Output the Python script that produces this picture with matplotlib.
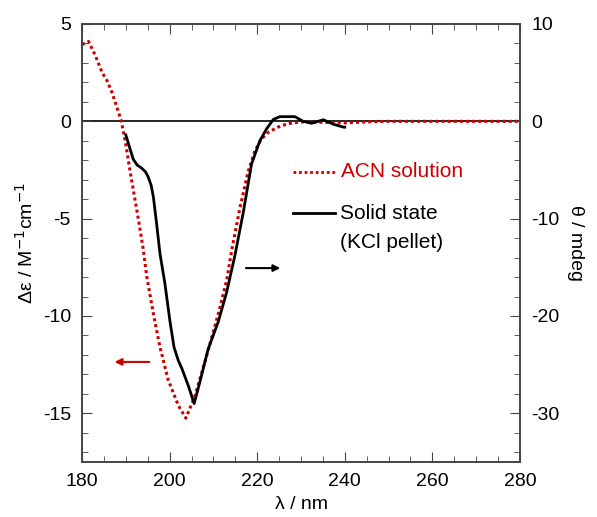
import matplotlib
matplotlib.use("Agg")
import matplotlib.pyplot as plt
from matplotlib.ticker import MultipleLocator

plt.rcParams["font.family"] = ["Liberation Sans", "DejaVu Sans"]
plt.rcParams["axes.unicode_minus"] = False

# ACN solution (left axis, delta epsilon / M-1 cm-1)
acn_wl = [180, 181.5, 183, 184.6, 185.7, 186.8, 188, 189, 190, 191, 192, 193, 194,
          194.8, 196.3, 197.8, 199.7, 202, 203.7, 205.8, 208.5, 211.1, 213, 214.2,
          216, 217.9, 219.5, 221, 222.5, 224.7, 227, 230, 235, 240, 245, 250, 260,
          270, 280]
acn_de = [3.95, 4.1, 3.4, 2.5, 2.1, 1.5, 0.7, 0.0, -1.2, -2.6, -3.9, -5.2, -6.6,
          -8.0, -9.9, -11.6, -13.3, -14.6, -15.25, -14.1, -12.0, -9.9, -8.2, -6.6,
          -4.5, -2.6, -1.5, -0.9, -0.57, -0.3, -0.12, -0.03, -0.05, -0.08, -0.03,
          0.0, 0.0, 0.0, 0.0]

# Solid state, KCl pellet (right axis, theta / mdeg)
kcl_wl = [190.0, 190.8, 191.7, 192.6, 193.6, 194.5, 195.1, 195.8, 196.3, 197.0,
          197.8, 198.9, 200.1, 201.0, 202.0, 202.8, 204.3, 205.6, 206.9, 208.8,
          211.1, 213.0, 214.9, 216.8, 218.7, 220.6, 222.1, 223.7, 225.2, 228.6,
          230.5, 232.4, 235.1, 237.4, 239.7, 240]
kcl_mdeg = [-1.4, -2.6, -3.9, -4.5, -4.8, -5.2, -5.7, -6.6, -7.8, -10.4,
            -13.6, -16.6, -20.6, -23.2, -24.6, -25.4, -27.2, -29.0, -26.8, -23.4,
            -20.6, -17.6, -13.8, -9.4, -4.4, -2.0, -0.8, 0.2, 0.48, 0.48,
            0.0, -0.2, 0.16, -0.3, -0.6, -0.6]

red = "#cc0000"

fig = plt.figure(figsize=(5.97, 5.17), dpi=100)
ax = fig.add_axes([0.1374, 0.1064, 0.7336, 0.8472])
ax2 = ax.twinx()

ax.axhline(0, color="black", lw=1.2, zorder=1)
ax.plot(acn_wl, acn_de, color=red, lw=2.2, linestyle=(0, (1, 1)), zorder=3)
ax2.plot(kcl_wl, kcl_mdeg, color="black", lw=2, zorder=2)

ax.set_xlim(180, 280)
ax.set_ylim(-17.5, 5)
ax2.set_ylim(-35, 10)

ax.xaxis.set_major_locator(MultipleLocator(20))
ax.xaxis.set_minor_locator(MultipleLocator(5))
ax.yaxis.set_major_locator(MultipleLocator(5))
ax.yaxis.set_minor_locator(MultipleLocator(1))
ax2.yaxis.set_major_locator(MultipleLocator(10))
ax2.yaxis.set_minor_locator(MultipleLocator(2))

ax.tick_params(which="both", direction="in", top=True, right=False, labelsize=14,
               color="#444444", pad=8)
ax.tick_params(which="major", length=7)
ax.tick_params(which="minor", length=4)
ax2.tick_params(which="both", direction="in", labelsize=14, color="#444444", pad=8)
ax2.tick_params(which="major", length=7)
ax2.tick_params(which="minor", length=4)
for a in (ax, ax2):
    for s in a.spines.values():
        s.set_color("#444444")
        s.set_linewidth(1.2)

ax.set_xlabel("λ / nm", fontsize=14, labelpad=4)
ax.set_ylabel("Δε / M$^{-1}$cm$^{-1}$", fontsize=14, labelpad=4)
ax2.set_ylabel("θ / mdeg", fontsize=14, rotation=270, labelpad=18)

# legend drawn by hand
ax.plot([228.2, 238.2], [-2.6, -2.6], color=red, lw=2, linestyle=(0, (1, 1)))
ax.text(239.1, -2.6, "ACN solution", color=red, fontsize=15, va="center")
ax.plot([228.2, 237.7], [-4.72, -4.72], color="black", lw=2)
ax.text(238.9, -4.72, "Solid state", color="black", fontsize=15, va="center")
ax.text(238.9, -6.2, "(KCl pellet)", color="black", fontsize=15, va="center")

# arrows showing which axis each curve belongs to
ax.annotate("", xy=(225.9, -7.54), xytext=(216.8, -7.54),
            arrowprops=dict(arrowstyle="-|>", color="black", lw=1.5))
ax.annotate("", xy=(186.8, -12.36), xytext=(196.0, -12.36),
            arrowprops=dict(arrowstyle="-|>", color=red, lw=1.5))

fig.savefig("out.png", dpi=100)
